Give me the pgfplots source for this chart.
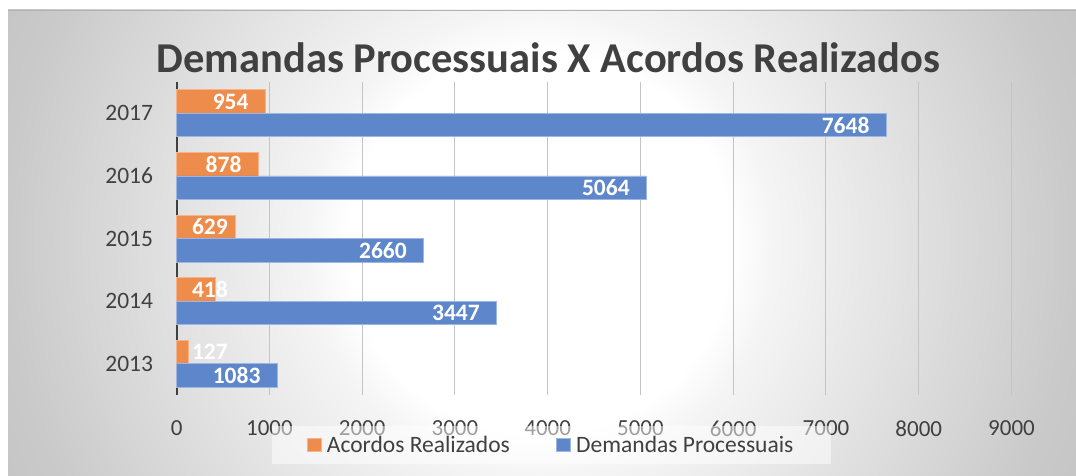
\documentclass[border=0pt]{standalone}
\usepackage{fontspec}
\setmainfont{Carlito}
\usepackage{pgfplots}
\pgfplotsset{compat=1.18}
\usepackage{pgfplotstable}
\definecolor{orangebar}{HTML}{EE8C4C}
\definecolor{bluebar}{HTML}{5E87CB}
\definecolor{orangeedge}{HTML}{F5B48A}
\definecolor{blueedge}{HTML}{9DB6E2}
\definecolor{txt}{HTML}{404040}
\definecolor{gridc}{HTML}{C4C4C4}
\pgfdeclareradialshading{bgshade}{\pgfpointorigin}{color(0bp)=(white); color(8bp)=(white); color(9.7bp)=(black!4); color(22.3bp)=(black!21); color(25bp)=(black!23); color(50bp)=(black!23)}
\pgfplotstableread{
idx year acordos demandas
0 2013 127 1083
1 2014 418 3447
2 2015 629 2660
3 2016 878 5064
4 2017 954 7648
}\datatable
\begin{document}
\begin{tikzpicture}[x=1pt,y=1pt]
\path[use as bounding box] (0,0) rectangle (1076,-476);
\fill[white] (0,0) rectangle (1076,-476);
\begin{scope}
\clip (8,-10) rectangle (1076,-476);
\shade[shading=bgshade] (-60,357) rectangle (1140,-843);
\end{scope}
\draw[black!30, line width=1.2pt] (8,-10.6) -- (1076,-10.6);
\node[anchor=base, font=\fontsize{42.5}{50}\selectfont\bfseries, text=txt, inner sep=0pt] at (548.5,-72.7) {Demandas Processuais X Acordos Realizados};
\begin{axis}[
  at={(176.7pt,-395pt)}, anchor=south west,
  scale only axis, width=834.8pt, height=313pt,
  xmin=0, xmax=9000, ymin=-0.5, ymax=4.5,
  xtick={0,1000,2000,3000,4000,5000,6000,7000,8000,9000},
  ytick={0,1,2,3,4}, yticklabels={2013,2014,2015,2016,2017},
  /pgf/number format/1000 sep={},
  /pgf/number format/assume math mode=true,
  axis lines*=left,
  axis line style={-},
  x axis line style={draw=none},
  y axis line style={draw=txt, line width=2.3pt},
  major tick length=0pt,
  xmajorgrids, major grid style={gridc, line width=1pt},
  xticklabel style={anchor=center, yshift=-33.5pt, text=txt, font=\fontsize{23}{28}\selectfont},
  yticklabel style={anchor=east, inner xsep=0pt, xshift=-23.5pt, text=txt, font=\fontsize{23.5}{28}\selectfont},
  legend columns=2,
  legend style={at={(0.4490,-0.1597)}, anchor=center, draw=none, fill=white, fill opacity=0.5, text opacity=1,
    font=\fontsize{23.5}{28}\selectfont, text=txt, inner xsep=35pt, inner ysep=9pt,
    nodes={inner xsep=2.5pt, inner ysep=1pt},
    /tikz/every odd column/.append style={column sep=3pt},
    /tikz/every even column/.append style={column sep=44pt}},
  legend image code/.code={\draw[#1, line width=0.8pt, fill opacity=1, draw opacity=1] (0pt,-6.5pt) rectangle (13.5pt,6.5pt);},
  clip=false,
]
\addplot[xbar, bar width=0.375, bar shift=0pt, fill=orangebar, draw=orangeedge, line width=0.8pt]
  table[x=acordos, y expr=\thisrow{idx}+0.1875] {\datatable};
\addlegendentry{Acordos Realizados}
\addplot[xbar, bar width=0.375, bar shift=0pt, fill=bluebar, draw=blueedge, line width=0.8pt]
  table[x=demandas, y expr=\thisrow{idx}-0.1875] {\datatable};
\addlegendentry{Demandas Processuais}
\addplot[forget plot, draw=none, mark=none, nodes near coords, point meta=explicit,
  every node near coord/.append style={anchor=east, xshift=-16.5pt, text=white, inner sep=0pt, font=\fontsize{23.5}{28}\selectfont\bfseries}]
  table[x expr={max(\thisrow{acordos},731)}, y expr=\thisrow{idx}+0.1875, meta=acordos] {\datatable};
\addplot[forget plot, draw=none, mark=none, nodes near coords, point meta=explicit,
  every node near coord/.append style={anchor=east, xshift=-16.5pt, text=white, inner sep=0pt, font=\fontsize{23.5}{28}\selectfont\bfseries}]
  table[x=demandas, y expr=\thisrow{idx}-0.1875, meta=demandas] {\datatable};
\end{axis}
\end{tikzpicture}
\end{document}
